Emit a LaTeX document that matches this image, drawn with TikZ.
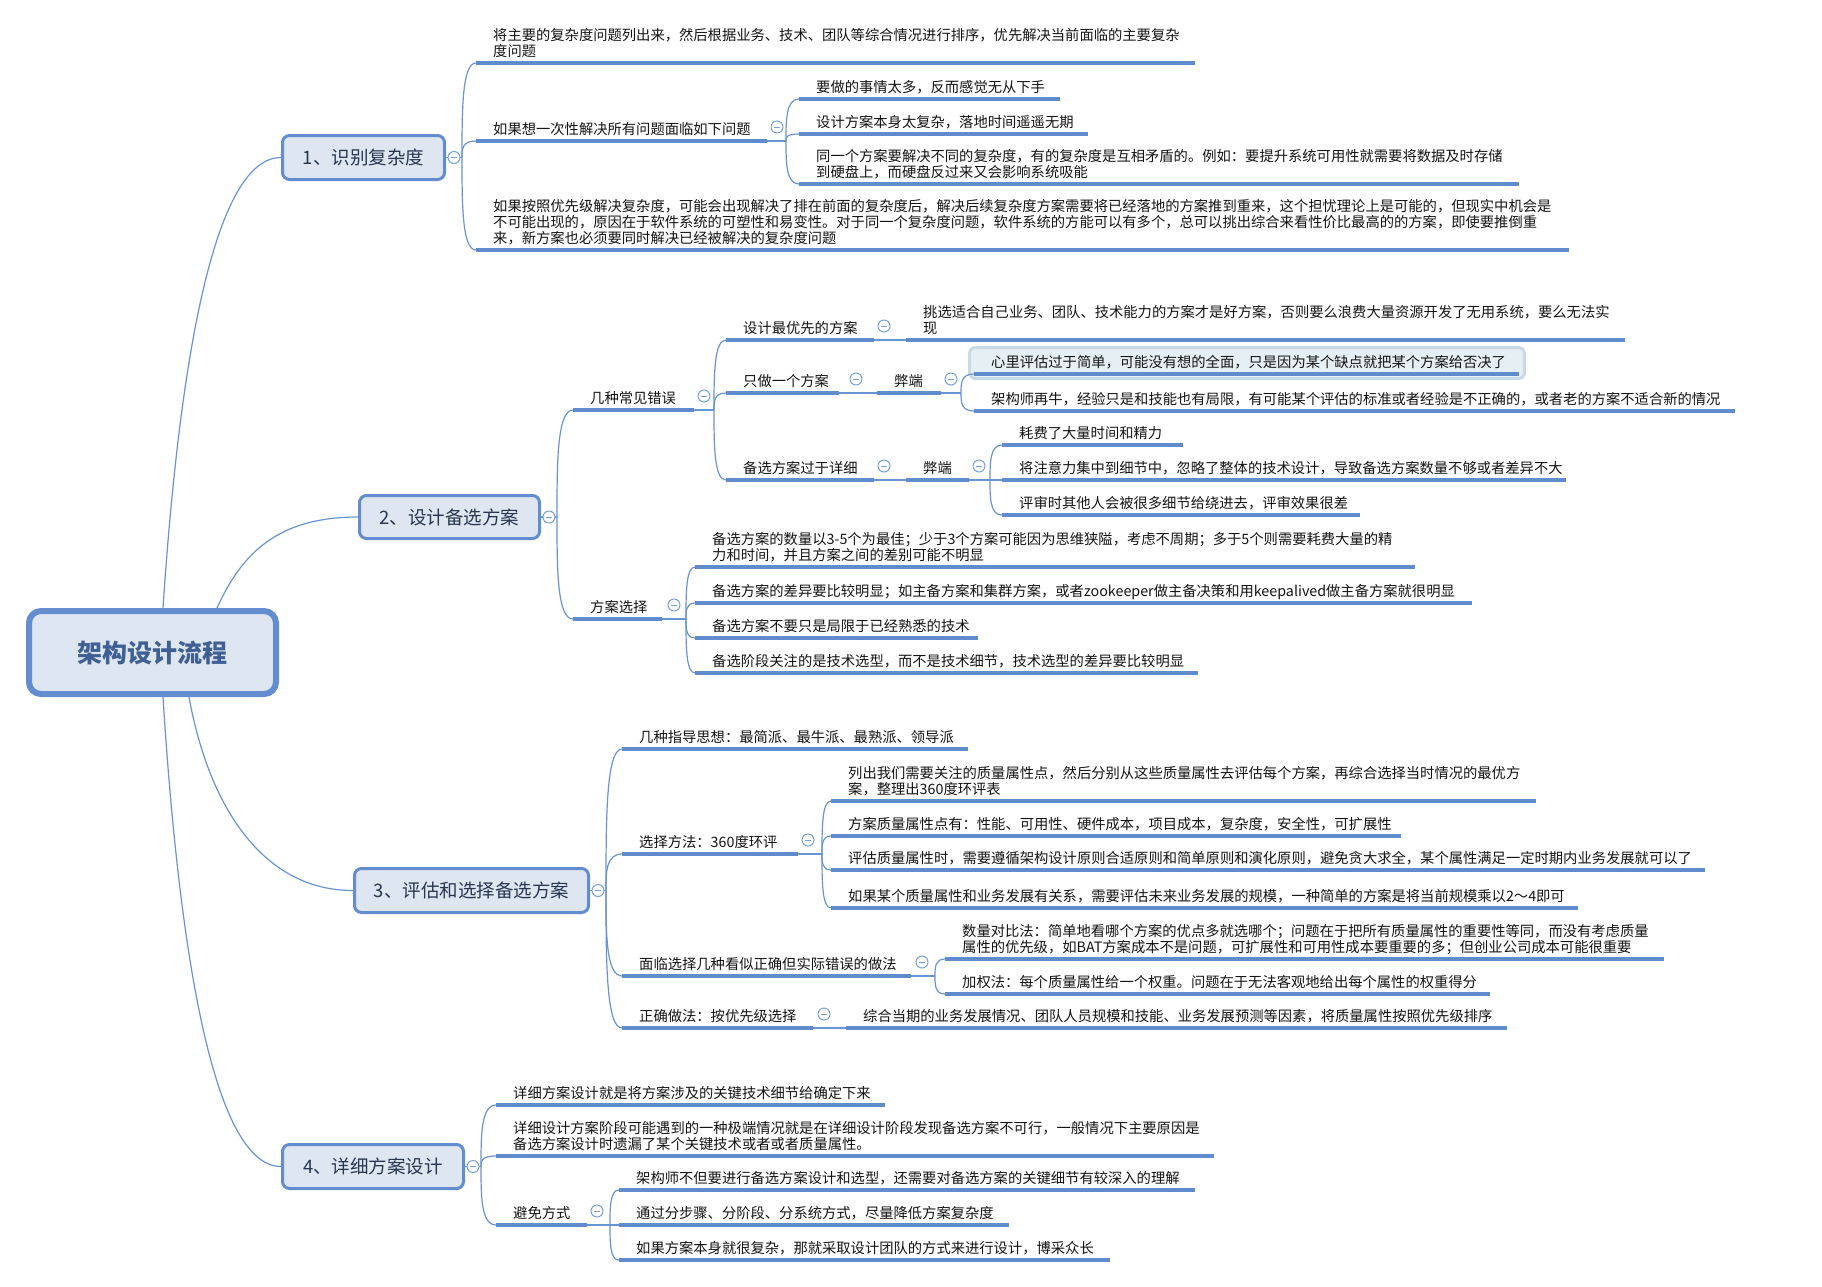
\documentclass[tikz,border=0pt]{standalone}
\usepackage{fontspec}
\setmainfont{Noto Sans CJK SC}
\usetikzlibrary{calc}
\definecolor{ulc}{RGB}{96,140,206}
\definecolor{cnc}{RGB}{105,148,212}
\definecolor{bxf}{RGB}{222,230,242}
\definecolor{bxd}{RGB}{99,141,206}
\definecolor{fdc}{RGB}{120,160,215}
\definecolor{txt}{RGB}{20,20,20}
\definecolor{mtxt}{RGB}{40,54,80}
\definecolor{rtxt}{RGB}{64,96,148}
\definecolor{hlf}{RGB}{230,240,244}
\definecolor{hld}{RGB}{200,218,230}
\tikzset{
  uline/.style={draw=ulc, line width=4pt},
  conn/.style={draw=cnc, line width=1.2pt},
  topic/.style={anchor=base west, inner sep=0pt, align=left, font=\fontsize{14.3}{15.7}\selectfont, text=txt},
  mainbox/.style={draw=bxd, fill=bxf, line width=3pt, rounded corners=7pt, inner sep=0pt, font=\fontsize{18.5}{20}\selectfont, text=mtxt},
  rootbox/.style={draw=bxd, fill=bxf, line width=6pt, rounded corners=12pt, inner sep=0pt, font=\fontsize{25}{28}\selectfont\bfseries, text=rtxt},
  fold/.style={circle, draw=fdc, fill=white, line width=1pt, minimum size=12pt, inner sep=0pt,
    path picture={\draw[fdc, line width=1pt] ([xshift=-3pt]path picture bounding box.center) -- ([xshift=3pt]path picture bounding box.center);}},
}
\newcommand\mmtopic[6]{%
  \coordinate (#1L) at (#2,#4);
  \coordinate (#1R) at (#3,#4);
  \draw[uline] (#1L) -- (#1R);
  \node[topic] (#1) at ({#2+17},{#4-7}) {#6};
}
\newcommand\mmlink[2]{\draw[conn] (#1) .. controls ($(#1)!0.5!(#1|-#2)$) and (#1|-#2) .. (#2);}
\newcommand\mmfold[3]{\node[fold] (#1) at (#2,#3) {};}
\begin{document}
\begin{tikzpicture}[x=1pt,y=-1pt]
\fill[white] (0,0) rectangle (1822,1286);
\useasboundingbox (0,0) rectangle (1822,1286);

% ---------- root and main boxes ----------
\node[rootbox, minimum width=247pt, minimum height=83pt] (root) at (152.5,652.5) {架构设计流程};
\node[mainbox, minimum width=162pt, minimum height=44pt] (n1) at (363.5,157.5) {1、识别复杂度};
\node[mainbox, minimum width=180pt, minimum height=43pt] (n2) at (449.5,517) {2、设计备选方案};
\node[mainbox, minimum width=234pt, minimum height=44pt] (n3) at (471.5,890.5) {3、评估和选择备选方案};
\node[mainbox, minimum width=181pt, minimum height=44pt] (n4) at (373,1166.5) {4、详细方案设计};

\coordinate (r1) at ([xshift=10.5pt]root.north);
\coordinate (r2) at ([xshift=64.5pt]root.north);
\coordinate (r3) at ([xshift=36.5pt]root.south);
\coordinate (r4) at ([xshift=10.5pt]root.south);
\draw[conn] (r1) .. controls +(12,-180) and +(-77,0) .. (n1.west);
\draw[conn] (r2) .. controls +(25,-55) and +(-80,0) .. (n2.west);
\draw[conn] (r3) .. controls +(20,110) and +(-90,0) .. (n3.west);
\draw[conn] (r4) .. controls +(12,190) and +(-77,0) .. (n4.west);

\foreach \n in {n1,n2,n3,n4}{
  \coordinate (\n t) at ([xshift=16pt]\n.east);
  \draw[conn] (\n.east) -- (\n t);
}

% ---------- section 1 ----------
\mmtopic{A}{476}{1195}{63}{2}{将主要的复杂度问题列出来，然后根据业务、技术、团队等综合情况进行排序，优先解决当前面临的主要复杂\\度问题}
\mmtopic{B}{476}{767}{141}{1}{如果想一次性解决所有问题面临如下问题}
\mmtopic{C}{476}{1569}{250}{3}{如果按照优先级解决复杂度，可能会出现解决了排在前面的复杂度后，解决后续复杂度方案需要将已经落地的方案推到重来，这个担忧理论上是可能的，但现实中机会是\\不可能出现的，原因在于软件系统的可塑性和易变性。对于同一个复杂度问题，软件系统的方能可以有多个，总可以挑出综合来看性价比最高的的方案，即使要推倒重\\来，新方案也必须要同时解决已经被解决的复杂度问题}
\mmlink{n1t}{AL}\mmlink{n1t}{BL}\mmlink{n1t}{CL}
\coordinate (Bt) at (786,141);
\draw[conn] (BR) -- (Bt);
\mmtopic{Ba}{799}{1060}{99}{1}{要做的事情太多，反而感觉无从下手}
\mmtopic{Bb}{799}{1088}{134}{1}{设计方案本身太复杂，落地时间遥遥无期}
\mmtopic{Bc}{799}{1519}{184}{2}{同一个方案要解决不同的复杂度，有的复杂度是互相矛盾的。例如：要提升系统可用性就需要将数据及时存储\\到硬盘上，而硬盘反过来又会影响系统吸能}
\mmlink{Bt}{BaL}\mmlink{Bt}{BbL}\mmlink{Bt}{BcL}
\mmfold{Bf}{777}{127}

% ---------- section 2 ----------
\mmtopic{E}{573}{694}{410}{1}{几种常见错误}
\mmtopic{S}{573}{662}{619}{1}{方案选择}
\mmlink{n2t}{EL}\mmlink{n2t}{SL}
\coordinate (Et) at (714,410);
\draw[conn] (ER) -- (Et);
\mmtopic{E1}{726}{874}{340}{1}{设计最优先的方案}
\mmtopic{E2}{726}{839}{393}{1}{只做一个方案}
\mmtopic{E3}{726}{874}{480}{1}{备选方案过于详细}
\mmlink{Et}{E1L}\mmlink{Et}{E2L}\mmlink{Et}{E3L}
\mmtopic{E1a}{906}{1625}{340}{2}{挑选适合自己业务、团队、技术能力的方案才是好方案，否则要么浪费大量资源开发了无用系统，要么无法实\\现}
\draw[conn] (E1R) -- (E1aL);
\mmtopic{E2a}{877}{941}{393}{1}{弊端}
\draw[conn] (E2R) -- (E2aL);
\coordinate (E2at) at (961,393);
\draw[conn] (E2aR) -- (E2at);
\node[draw=hld, fill=hlf, line width=3pt, rounded corners=6pt, minimum width=555pt, minimum height=31pt, inner sep=0pt] (hl) at (1247,363) {};
\mmtopic{E2aa}{974}{1519}{374}{1}{心里评估过于简单，可能没有想的全面，只是因为某个缺点就把某个方案给否决了}
\mmtopic{E2ab}{974}{1735}{411}{1}{架构师再牛，经验只是和技能也有局限，有可能某个评估的标准或者经验是不正确的，或者老的方案不适合新的情况}
\mmlink{E2at}{E2aaL}\mmlink{E2at}{E2abL}
\mmtopic{E3a}{906}{969}{480}{1}{弊端}
\draw[conn] (E3R) -- (E3aL);
\coordinate (E3at) at (990,480);
\draw[conn] (E3aR) -- (E3at);
\mmtopic{E3aa}{1002}{1183}{445}{1}{耗费了大量时间和精力}
\mmtopic{E3ab}{1002}{1566}{480}{1}{将注意力集中到细节中，忽略了整体的技术设计，导致备选方案数量不够或者差异不大}
\mmtopic{E3ac}{1002}{1360}{515}{1}{评审时其他人会被很多细节给绕进去，评审效果很差}
\mmlink{E3at}{E3aaL}\mmlink{E3at}{E3abL}\mmlink{E3at}{E3acL}
\mmfold{Ef}{704}{396}
\mmfold{E1f}{884}{326}
\mmfold{E2f}{856}{379}
\mmfold{E2af}{951}{379}
\mmfold{E3f}{884}{466}
\mmfold{E3af}{979}{466}

\coordinate (St) at (686,619);
\draw[conn] (SR) -- (St);
\mmtopic{Sa}{695}{1415}{567}{2}{备选方案的数量以3-5个为最佳；少于3个方案可能因为思维狭隘，考虑不周期；多于5个则需要耗费大量的精\\力和时间，并且方案之间的差别可能不明显}
\mmtopic{Sb}{695}{1472}{603}{1}{备选方案的差异要比较明显；如主备方案和集群方案，或者zookeeper做主备决策和用keepalived做主备方案就很明显}
\mmtopic{Sc}{695}{978}{638}{1}{备选方案不要只是局限于已经熟悉的技术}
\mmtopic{Sd}{695}{1198}{673}{1}{备选阶段关注的是技术选型，而不是技术细节，技术选型的差异要比较明显}
\mmlink{St}{SaL}\mmlink{St}{SbL}\mmlink{St}{ScL}\mmlink{St}{SdL}
\mmfold{Sf}{674}{605}

% ---------- section 3 ----------
\mmtopic{G1}{622}{968}{749}{1}{几种指导思想：最简派、最牛派、最熟派、领导派}
\mmtopic{G2}{622}{798}{854}{1}{选择方法：360度环评}
\mmtopic{G3}{622}{911}{976}{1}{面临选择几种看似正确但实际错误的做法}
\mmtopic{G4}{622}{813}{1028}{1}{正确做法：按优先级选择}
\mmlink{n3t}{G1L}\mmlink{n3t}{G2L}\mmlink{n3t}{G3L}\mmlink{n3t}{G4L}
\coordinate (G2t) at (822,854);
\draw[conn] (G2R) -- (G2t);
\mmtopic{G2a}{831}{1536}{801}{2}{列出我们需要关注的质量属性点，然后分别从这些质量属性去评估每个方案，再综合选择当时情况的最优方\\案，整理出360度环评表}
\mmtopic{G2b}{831}{1401}{836}{1}{方案质量属性点有：性能、可用性、硬件成本，项目成本，复杂度，安全性，可扩展性}
\mmtopic{G2c}{831}{1705}{870}{1}{评估质量属性时，需要遵循架构设计原则合适原则和简单原则和演化原则，避免贪大求全，某个属性满足一定时期内业务发展就可以了}
\mmtopic{G2d}{831}{1578}{908}{1}{如果某个质量属性和业务发展有关系，需要评估未来业务发展的规模，一种简单的方案是将当前规模乘以2～4即可}
\mmlink{G2t}{G2aL}\mmlink{G2t}{G2bL}\mmlink{G2t}{G2cL}\mmlink{G2t}{G2dL}
\coordinate (G3t) at (935,976);
\draw[conn] (G3R) -- (G3t);
\mmtopic{G3a}{945}{1664}{959}{2}{数量对比法：简单地看哪个方案的优点多就选哪个；问题在于把所有质量属性的重要性等同，而没有考虑质量\\属性的优先级，如BAT方案成本不是问题，可扩展性和可用性成本要重要的多；但创业公司成本可能很重要}
\mmtopic{G3b}{945}{1490}{994}{1}{加权法：每个质量属性给一个权重。问题在于无法客观地给出每个属性的权重得分}
\mmlink{G3t}{G3aL}\mmlink{G3t}{G3bL}
\mmtopic{G4a}{846}{1507}{1028}{1}{综合当期的业务发展情况、团队人员规模和技能、业务发展预测等因素，将质量属性按照优先级排序}
\draw[conn] (G4R) -- (G4aL);
\mmfold{G2f}{808}{840}
\mmfold{G3f}{922}{962}
\mmfold{G4f}{824}{1014}

% ---------- section 4 ----------
\mmtopic{H1}{496}{885}{1105}{1}{详细方案设计就是将方案涉及的关键技术细节给确定下来}
\mmtopic{H2}{496}{1214}{1156}{2}{详细设计方案阶段可能遇到的一种极端情况就是在详细设计阶段发现备选方案不可行，一般情况下主要原因是\\备选方案设计时遗漏了某个关键技术或者或者质量属性。}
\mmtopic{H3}{496}{587}{1225}{1}{避免方式}
\mmlink{n4t}{H1L}\mmlink{n4t}{H2L}\mmlink{n4t}{H3L}
\coordinate (H3t) at (610,1225);
\draw[conn] (H3R) -- (H3t);
\mmtopic{H3a}{619}{1195}{1190}{1}{架构师不但要进行备选方案设计和选型，还需要对备选方案的关键细节有较深入的理解}
\mmtopic{H3b}{619}{1009}{1225}{1}{通过分步骤、分阶段、分系统方式，尽量降低方案复杂度}
\mmtopic{H3c}{619}{1110}{1260}{1}{如果方案本身就很复杂，那就采取设计团队的方式来进行设计，博采众长}
\mmlink{H3t}{H3aL}\mmlink{H3t}{H3bL}\mmlink{H3t}{H3cL}
\mmfold{H3f}{597}{1211}

% folds on main boxes
\foreach \n in {n1,n2,n3,n4}{
  \node[fold] (\n f) at ([xshift=8pt]\n.east) {};
}
\end{tikzpicture}
\end{document}
